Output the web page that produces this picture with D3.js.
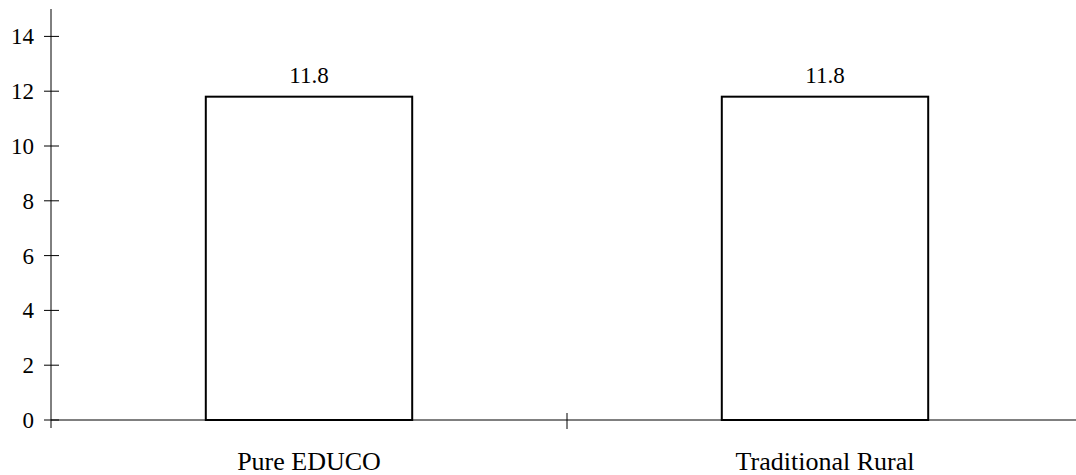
<!DOCTYPE html>
<html><head><meta charset="utf-8">
<script src="https://cdn.jsdelivr.net/npm/d3@7"></script>
<style>body{margin:0;background:#fff}svg{display:block}</style>
</head><body><svg id="c" width="1076" height="475"></svg>
<script>
const categories = ["Pure EDUCO", "Traditional Rural"];
const values = [11.8, 11.8];
const yTicks = [0, 2, 4, 6, 8, 10, 12, 14];

const svg = d3.select("#c").attr("font-family", "'Liberation Serif', 'Times New Roman', Times, serif");
const x0 = 51, x1 = 1083, yBase = 420, yTop = 9;
const x = d3.scaleBand().domain(categories).range([x0, x1]).padding(0);
const y = d3.scaleLinear().domain([0, 15]).range([yBase, yTop]);
const barW = x.bandwidth() * 0.4;

svg.append("line").attr("x1", x0).attr("x2", x0).attr("y1", y(15)).attr("y2", yBase + 8)
  .attr("stroke", "#000").attr("stroke-width", 1);
svg.selectAll(".yt").data(yTicks).enter().append("line")
  .attr("x1", x0 - 7).attr("x2", x0 + 8).attr("y1", d => y(d)).attr("y2", d => y(d))
  .attr("stroke", "#000").attr("stroke-width", 1);
svg.selectAll(".yl").data(yTicks).enter().append("text")
  .attr("x", x0 - 17).attr("y", d => y(d)).attr("dy", "0.35em")
  .attr("text-anchor", "end").attr("font-size", 23).attr("fill", "#000").text(d => d);

svg.append("line").attr("x1", x0).attr("x2", x1).attr("y1", yBase).attr("y2", yBase)
  .attr("stroke", "#000").attr("stroke-width", 1);
svg.selectAll(".xt").data(categories.slice(1)).enter().append("line")
  .attr("x1", d => x(d)).attr("x2", d => x(d)).attr("y1", yBase - 7).attr("y2", yBase + 9)
  .attr("stroke", "#000").attr("stroke-width", 1);

svg.selectAll(".bar").data(values).enter().append("rect")
  .attr("x", (d, i) => x(categories[i]) + x.bandwidth() / 2 - barW / 2)
  .attr("y", d => y(d)).attr("width", barW).attr("height", d => yBase - y(d))
  .attr("fill", "#fff").attr("stroke", "#000").attr("stroke-width", 2);

svg.selectAll(".vl").data(values).enter().append("text")
  .attr("x", (d, i) => x(categories[i]) + x.bandwidth() / 2)
  .attr("y", d => y(d) - 14).attr("text-anchor", "middle").attr("font-size", 23).attr("fill", "#000")
  .text(d => d.toFixed(1));

svg.selectAll(".cl").data(categories).enter().append("text")
  .attr("x", d => x(d) + x.bandwidth() / 2).attr("y", yBase + 50)
  .attr("text-anchor", "middle").attr("font-size", 26).attr("fill", "#000").text(d => d);
</script></body></html>
